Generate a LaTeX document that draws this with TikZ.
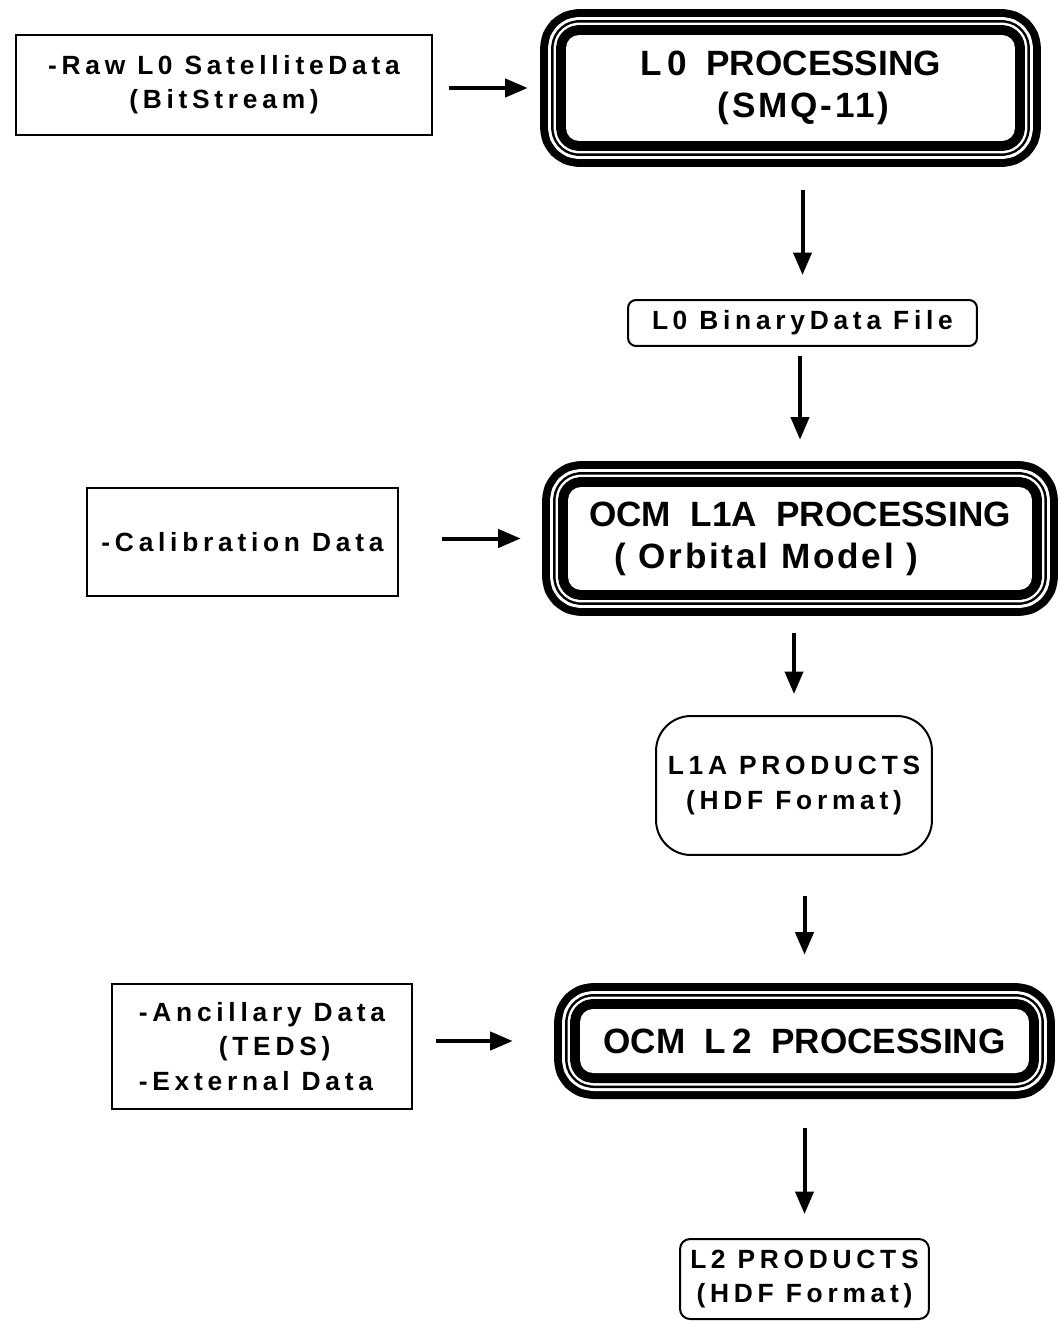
\documentclass[tikz,border=0pt]{standalone}
\usepackage{fontspec}
\setmainfont{Liberation Sans}
\newfontfamily\smallfont[LetterSpace=18]{Liberation Sans}
\newfontfamily\titlefont{Liberation Sans}
\newfontfamily\titlewide[LetterSpace=8]{Liberation Sans}
\usetikzlibrary{arrows.meta}
\begin{document}
\begin{tikzpicture}[x=0.02cm, y=-0.02cm,
  inbox/.style={draw, line width=0.4mm, inner sep=0, font=\smallfont\bfseries\fontsize{15}{19.5}\selectfont},
  prodbox/.style={inbox, rounded corners=#1},
  procbox/.style={rounded corners=2.6mm, fill=white, line join=round, inner sep=0,
    preaction={draw, line width=10.4mm}, preaction={draw, white, line width=7.2mm},
    preaction={draw, line width=6mm}, preaction={draw, white, line width=5mm},
    preaction={draw, line width=4mm}, font=\titlefont\bfseries\fontsize{20}{24}\selectfont},
  arr/.style={line width=0.8mm, -{Triangle[length=4.5mm,width=3.6mm]}}]
\useasboundingbox (0,0) rectangle (1059,1321);

% input data
\node[inbox, minimum width=8.32cm, minimum height=2cm, align=center] (raw) at (224,85)
  {-Raw L\,0 SatelliteData\\(BitStream)};
\node[inbox, minimum width=6.22cm, minimum height=2.16cm] (calib) at (242.5,542) {-Calibration Data};
\node[inbox, minimum width=6cm, minimum height=2.5cm, align=left] (anc) at (262,1046.5)
  {-Ancillary Data\\\hspace*{1.6cm}(TEDS)\\-External Data};

% processing steps
\node[procbox, minimum width=8.98cm, minimum height=2.12cm, align=left] (l0) at (790.5,88)
  {L\,0~~PROCESSING\\\hspace*{1.55cm}{\titlewide\bfseries(SMQ-11)}};
\node[procbox, minimum width=9.28cm, minimum height=2.06cm, align=left] (l1a) at (800,538.5)
  {OCM~~L1A~~PROCESSING\\\hspace*{0.5cm}{\titlewide\bfseries( Orbital Model )}};
\node[procbox, minimum width=8.98cm, minimum height=1.28cm] (l2) at (804.5,1041) {OCM~~L\,2~~PROCESSING};

% products
\node[prodbox=1.6mm, minimum width=6.98cm, minimum height=0.92cm] (bin) at (802.5,323) {L\,0 BinaryData File};
\node[prodbox=7mm, minimum width=5.52cm, minimum height=2.78cm, align=center] (prod1) at (794,785.5)
  {L1A PRODUCTS\\(HDF Format)};
\node[prodbox=2mm, minimum width=4.98cm, minimum height=1.6cm, align=center] (prod2) at (804.5,1279)
  {L\,2 PRODUCTS\\(HDF Format)};

\foreach \a/\b/\s/\e in {raw/l0/.32cm/.76cm, calib/l1a/.86cm/.94cm, anc/l2/.46cm/1.34cm}
  \draw[arr, shorten <=\s, shorten >=\e] (\a.east |- \b.west) -- (\b.west);
\foreach \a/\b/\s/\e in {l0/bin/.98cm/.48cm, bin/l1a/.18cm/.94cm, l1a/prod1/.86cm/.42cm, prod1/l2/.8cm/1.08cm, l2/prod2/1.1cm/.48cm}
  \draw[arr, shorten <=\s, shorten >=\e] (\a.south -| \b.north) -- (\b.north);
\end{tikzpicture}
\end{document}
